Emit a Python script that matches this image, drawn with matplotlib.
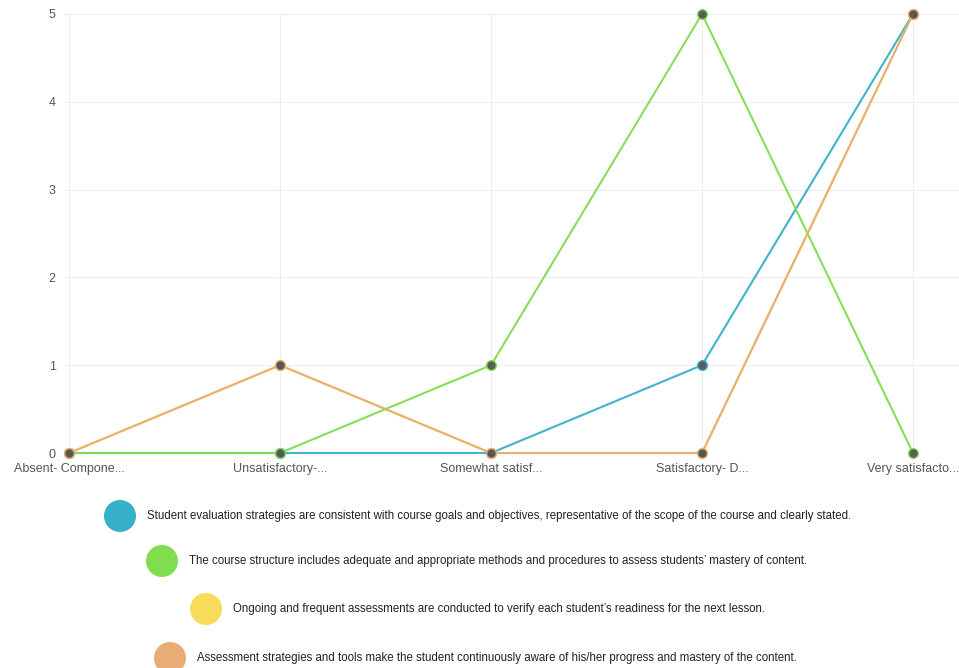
import matplotlib.pyplot as plt

plt.rcParams['font.family'] = ['Liberation Sans', 'DejaVu Sans']

categories = ["Absent- Compone...", "Unsatisfactory-...", "Somewhat satisf...",
              "Satisfactory- D...", "Very satisfacto..."]

series_names = [
    "Student evaluation strategies are consistent with course goals and objectives, representative of the scope of the course and clearly stated.",
    "The course structure includes adequate and appropriate methods and procedures to assess students\u2019 mastery of content.",
    "Ongoing and frequent assessments are conducted to verify each student\u2019s readiness for the next lesson.",
    "Assessment strategies and tools make the student continuously aware of his/her progress and mastery of the content.",
]
blue_vals = [0, 0, 0, 1, 5]
green_vals = [0, 0, 1, 5, 0]
yellow_vals = [0, 1, 0, 0, 5]
orange_vals = [0, 1, 0, 0, 5]
colors = ["#35b0c8", "#80dd4e", "#f6dc58", "#e8ad74"]

W, H = 959, 668
fig = plt.figure(figsize=(W / 100, H / 100), dpi=100)
ax = fig.add_axes([64 / W, 1 - 453 / H, (W - 64) / W, (453 - 14) / H])

x = list(range(len(categories)))
for vals, c in zip([blue_vals, green_vals, yellow_vals, orange_vals], colors):
    ax.plot(x, vals, color=c, lw=1.5, alpha=0.95, zorder=3,
            marker='o', markersize=7, markerfacecolor='#555555',
            markeredgecolor=c, markeredgewidth=1.0, clip_on=False)

ax.set_xlim(-0.024, 4.218)
ax.set_ylim(0, 5)
ax.set_xticks(x)
ax.set_xticklabels(categories)
ax.set_yticks(range(6))
for s in ax.spines.values():
    s.set_visible(False)
ax.grid(True, color='#eeeeee', lw=0.8, zorder=0)
ax.tick_params(axis='both', length=0, colors='#555555', labelsize=9)
ax.tick_params(axis='y', pad=6)
ax.tick_params(axis='x', pad=7)

# legend rows drawn by hand, centered like the original
circle_x = [120, 162, 206, 170]
row_y = [516, 561, 609, 658]
for name, c, cx, cy in zip(series_names, colors, circle_x, row_y):
    dot = plt.Circle((cx / 100, (H - cy) / 100), 0.16, transform=fig.dpi_scale_trans,
                     facecolor=c, edgecolor='none')
    fig.patches.append(dot)
    fig.text((cx + 27) / W, 1 - cy / H, name, fontsize=8.3, color='#222222',
             va='center', ha='left')

fig.savefig('out.png', dpi=100)
